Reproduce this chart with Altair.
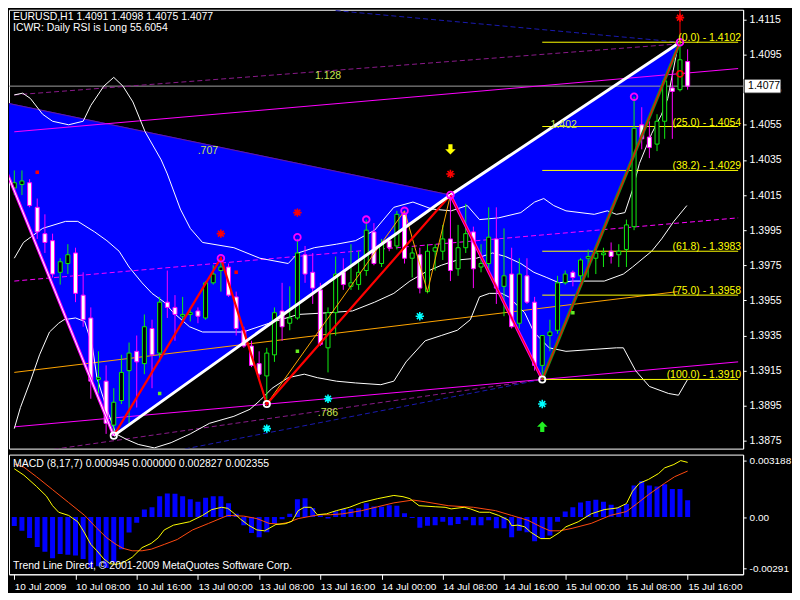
import altair as alt
import pandas as pd

# ---------------- data ----------------
opens = [1.4019, 1.4021, 1.4022, 1.4008, 1.3993, 1.3989, 1.3971, 1.3976, 1.3982, 1.3958,
         1.3945, 1.3910, 1.3909, 1.3884, 1.3898, 1.3915, 1.3926, 1.3919, 1.3939, 1.3925,
         1.3954, 1.3951, 1.3946, 1.3947, 1.3949, 1.3945, 1.3965, 1.3972, 1.3974, 1.3957,
         1.3938, 1.3929, 1.3919, 1.3912, 1.3924, 1.3949, 1.3942, 1.3945, 1.3981, 1.3971,
         1.3961, 1.3928, 1.3948, 1.3971, 1.3963, 1.3964, 1.3972, 1.3994, 1.3976, 1.3989,
         1.3986, 1.4004, 1.3979, 1.3981, 1.3960, 1.3983, 1.3983, 1.3990, 1.3973, 1.3985,
         1.3994, 1.3974, 1.3976, 1.3990, 1.3963, 1.3970, 1.3942, 1.3969, 1.3954, 1.3918,
         1.3935, 1.3938, 1.3965, 1.3971, 1.3969, 1.3979, 1.3979, 1.3981, 1.3983, 1.3981,
         1.3984, 1.3997, 1.4055, 1.4048, 1.4044, 1.4057, 1.4076, 1.4075, 1.4091]
highs = [1.4029, 1.4029, 1.4024, 1.4013, 1.4004, 1.3993, 1.3979, 1.3987, 1.3985, 1.3971,
         1.3951, 1.3926, 1.3918, 1.3905, 1.3924, 1.3931, 1.3935, 1.3947, 1.3944, 1.3957,
         1.3972, 1.3958, 1.3957, 1.3951, 1.3951, 1.3966, 1.3975, 1.3979, 1.3976, 1.3960,
         1.3940, 1.3932, 1.3926, 1.3928, 1.3951, 1.3965, 1.3963, 1.3990, 1.3986, 1.3982,
         1.3965, 1.3951, 1.3980, 1.3979, 1.3987, 1.3983, 1.4001, 1.3999, 1.3990, 1.3991,
         1.4006, 1.4006, 1.3985, 1.3985, 1.3987, 1.3987, 1.3998, 1.4015, 1.3998, 1.4010,
         1.3997, 1.3987, 1.4008, 1.4008, 1.3996, 1.3985, 1.3979, 1.3979, 1.3957, 1.3935,
         1.3944, 1.3969, 1.3972, 1.3972, 1.3979, 1.3984, 1.3985, 1.3985, 1.3988, 1.3987,
         1.4001, 1.4071, 1.4065, 1.4057, 1.4061, 1.4082, 1.4086, 1.4102, 1.4098]
lows = [1.4015, 1.4015, 1.4008, 1.3990, 1.3982, 1.3968, 1.3964, 1.3970, 1.3954, 1.3940,
        1.3899, 1.3902, 1.3879, 1.3878, 1.3896, 1.3885, 1.3894, 1.3913, 1.3905, 1.3920,
        1.3945, 1.3932, 1.3942, 1.3943, 1.3942, 1.3944, 1.3964, 1.3960, 1.3957, 1.3935,
        1.3928, 1.3917, 1.3911, 1.3896, 1.3920, 1.3932, 1.3938, 1.3944, 1.3965, 1.3953,
        1.3929, 1.3914, 1.3935, 1.3961, 1.3961, 1.3961, 1.3969, 1.3975, 1.3974, 1.3983,
        1.3984, 1.3976, 1.3968, 1.3959, 1.3959, 1.3972, 1.3978, 1.3966, 1.3969, 1.3982,
        1.3962, 1.3971, 1.3972, 1.3953, 1.3946, 1.3939, 1.3939, 1.3953, 1.3915, 1.3910,
        1.3926, 1.3936, 1.3964, 1.3963, 1.3966, 1.3968, 1.3970, 1.3974, 1.3976, 1.3974,
        1.3974, 1.3995, 1.4041, 1.4036, 1.4040, 1.4047, 1.4047, 1.4074, 1.4075]
closes = [1.4022, 1.4023, 1.4009, 1.3994, 1.3988, 1.3970, 1.3977, 1.3981, 1.3959, 1.3944,
          1.3909, 1.3911, 1.3885, 1.3897, 1.3914, 1.3925, 1.3920, 1.3940, 1.3924, 1.3954,
          1.3951, 1.3947, 1.3947, 1.3948, 1.3946, 1.3965, 1.3970, 1.3974, 1.3958, 1.3939,
          1.3929, 1.3918, 1.3913, 1.3925, 1.3948, 1.3940, 1.3945, 1.3982, 1.3970, 1.3962,
          1.3930, 1.3948, 1.3970, 1.3964, 1.3965, 1.3971, 1.3995, 1.3976, 1.3987, 1.3985,
          1.4004, 1.3979, 1.3982, 1.3962, 1.3983, 1.3985, 1.3990, 1.3972, 1.3985, 1.3993,
          1.3973, 1.3976, 1.3991, 1.3962, 1.3969, 1.3940, 1.3970, 1.3954, 1.3918, 1.3935,
          1.3937, 1.3965, 1.3970, 1.3968, 1.3978, 1.3980, 1.3982, 1.3982, 1.3980, 1.3983,
          1.3998, 1.4053, 1.4047, 1.4042, 1.4057, 1.4080, 1.4074, 1.4092, 1.4077]

time_label_bars = [0, 8, 16, 24, 32, 40, 48, 56, 64, 72, 80, 88]
time_labels = ["10 Jul 2009", "10 Jul 08:00", "10 Jul 16:00", "13 Jul 00:00",
               "13 Jul 08:00", "13 Jul 16:00", "14 Jul 00:00", "14 Jul 08:00",
               "14 Jul 16:00", "15 Jul 00:00", "15 Jul 08:00", "15 Jul 16:00"]
price_ticks = [1.3875, 1.3895, 1.3915, 1.3935, 1.3955, 1.3975, 1.3995,
               1.4015, 1.4035, 1.4055, 1.4075, 1.4095, 1.4115]

# harmonic pattern points X, A, B, C, D
pat_i = [-5.0, 13, 57, 69, 87]
pat_p = [1.4071, 1.3878, 1.4015, 1.3910, 1.4102]

# red zigzag and orange zigzag swings
red_zz_i = [13, 27, 33, 57]
red_zz_p = [1.3878, 1.3979, 1.3896, 1.4015]
orange_zz_i = [33, 51, 54, 57]
orange_zz_p = [1.3896, 1.4006, 1.3960, 1.4015]

# trend lines (start, end)
mag_upper_i, mag_upper_p = [0, 94.6], [1.4051, 1.4087]
mag_lower_i, mag_lower_p = [0, 94.6], [1.3883, 1.3920]
mag_dash_i, mag_dash_p = [0, 94.6], [1.3966, 1.4002]
pur_upper_i, pur_upper_p = [0, 86.7], [1.4072, 1.4101]
pur_lower_i, pur_lower_p = [0, 69], [1.3867, 1.3910]
blue_lower_i, blue_lower_p = [10, 69], [1.3860, 1.3910]
blue_upper_i, blue_upper_p = [42, 87], [1.4120, 1.4102]
orange_line_i, orange_line_p = [0, 86.7], [1.3914, 1.3960]
red_vert_i, red_vert_p = [87, 87], [1.4102, 1.4125]

# envelope / band lines
ub_i = [0, 1.1, 2.1, 3.7, 5.0, 7.1, 9.0, 10.0, 11.7, 13.0, 14.2, 15.5, 17.1, 19.2, 20.0,
        21.7, 23.0, 24.6, 28.7, 32.1, 35.8, 37.1, 39.2, 42.1, 44.6, 47.1, 49.6, 52.1, 54.6,
        57.1, 59.2, 60.8, 63.3, 66.2, 68.0, 69.2, 70.5, 72.1, 75.8, 77.5, 78.7, 79.8, 80.8,
        81.7, 83.3, 84.6, 85.4, 86.7]
ub_p = [1.4072, 1.4073, 1.4070, 1.4061, 1.4057, 1.4055, 1.4057, 1.4066, 1.4077, 1.4082,
        1.4077, 1.4068, 1.4051, 1.4035, 1.4027, 1.4007, 1.3996, 1.3988, 1.3985, 1.3979,
        1.3976, 1.3982, 1.3985, 1.3987, 1.3989, 1.3995, 1.4008, 1.4011, 1.4007, 1.4006,
        1.4009, 1.4001, 1.4002, 1.4005, 1.4011, 1.4013, 1.4009, 1.4006, 1.4004, 1.4006,
        1.4004, 1.4005, 1.4018, 1.4033, 1.4050, 1.4061, 1.4070, 1.4099]
mb_i = [0, 1.2, 3.7, 6.7, 8.3, 10.5, 12.1, 13.7, 15.0, 16.7, 18.0, 19.6, 20.8, 22.9, 24.6,
        29.9, 33.3, 37.1, 41.2, 44.2, 47.1, 49.6, 51.7, 53.7, 55.8, 57.9, 60.4, 62.5, 64.2,
        66.2, 67.9, 69.6, 71.2, 72.9, 77.1, 79.6, 80.8, 83.3, 84.6, 86.2, 87.9]
mb_p = [1.3979, 1.3988, 1.3996, 1.4000, 1.4000, 1.3994, 1.3989, 1.3983, 1.3974, 1.3965,
        1.3959, 1.3954, 1.3948, 1.3940, 1.3937, 1.3937, 1.3942, 1.3947, 1.3948, 1.3949,
        1.3954, 1.3959, 1.3966, 1.3971, 1.3975, 1.3978, 1.3979, 1.3982, 1.3980, 1.3976,
        1.3971, 1.3968, 1.3965, 1.3966, 1.3966, 1.3970, 1.3974, 1.3983, 1.3990, 1.4000, 1.4009]
lb_i = [0, 0.8, 2.1, 3.3, 4.6, 5.8, 6.5, 8.0, 9.2, 10.2, 10.8, 12.1, 13.3, 14.6, 16.2,
        18.3, 20.5, 23.0, 25.5, 28.7, 30.8, 32.1, 33.7, 35.8, 37.9, 39.6, 42.1, 44.6, 47.9,
        49.6, 51.2, 53.7, 55.8, 57.9, 59.6, 60.8, 62.1, 63.7, 64.6, 66.7, 67.9, 69.9, 72.1,
        78.7, 79.6, 81.2, 83.0, 85.5, 86.8, 88.0]
lb_p = [1.3882, 1.3894, 1.3909, 1.3924, 1.3937, 1.3942, 1.3944, 1.3945, 1.3943, 1.3929,
        1.3911, 1.3893, 1.3879, 1.3876, 1.3873, 1.3871, 1.3874, 1.3879, 1.3885, 1.3889,
        1.3893, 1.3898, 1.3905, 1.3911, 1.3913, 1.3911, 1.3909, 1.3908, 1.3907, 1.3909,
        1.3920, 1.3932, 1.3935, 1.3938, 1.3944, 1.3957, 1.3959, 1.3959, 1.3957, 1.3948,
        1.3937, 1.3928, 1.3926, 1.3928, 1.3928, 1.3915, 1.3906, 1.3902, 1.3901, 1.3910]

# fibonacci levels
fib_pct = [0.0, 25.0, 38.2, 61.8, 75.0, 100.0]
fib_prices = [1.4102, 1.4054, 1.4029, 1.3983, 1.3958, 1.3910]

# markers
mag_circ_i = [27, 37, 46, 51, 57, 81, 87]
mag_circ_p = [1.3979, 1.3991, 1.4001, 1.4006, 1.4015, 1.4071, 1.4102]
white_circ_i = [13, 33, 69]
white_circ_p = [1.3878, 1.3896, 1.3910]
red_circ_i, red_circ_p = [87], [1.4084]
red_star_i = [27, 37, 57, 87]
red_star_p = [1.3993, 1.4005, 1.4027, 1.4116]
cyan_star_i = [33, 41, 53, 69]
cyan_star_p = [1.3882, 1.3899, 1.3946, 1.3896]
down_arrow_i, down_arrow_p = [57], [1.4041]
up_arrow_i, up_arrow_p = [69], [1.3883]
lime_sq_i = [19, 37, 73]
lime_sq_p = [1.3902, 1.3926, 1.3948]
red_sq_i = [3, 29]
red_sq_p = [1.4028, 1.3971]

ratio_labels = [".707", "1.128", ".786", "1.402"]
ratio_i = [25.3, 41, 41, 71.8]
ratio_p = [1.4040, 1.4083, 1.3891, 1.4055]

header_1 = "EURUSD,H1  1.4091 1.4098 1.4075 1.4077"
header_2 = "ICWR: Daily RSI is Long 55.6054"
macd_header = "MACD  (8,17,7) 0.000945 0.000000 0.002827 0.002355"
copyright_txt = "Trend Line Direct, \u00a9 2001-2009 MetaQuotes Software Corp."

# MACD panel
macd_hist = [-0.00051, -0.00078, -0.00118, -0.00169, -0.00197, -0.00233, -0.00209, -0.00213, -0.00218, -0.00237,
             -0.00286, -0.00278, -0.00288, -0.00255, -0.00182, -0.00087, -0.00033, 0.00042, 0.00055, 0.00118,
             0.00133, 0.00131, 0.00118, 0.00100, 0.00086, 0.00109, 0.00118, 0.00118, 0.00078, 0.00018,
             -0.00046, -0.00091, -0.00115, -0.00086, -0.00036, -0.00013, 0.00018, 0.00100, 0.00106, 0.00051,
             0.00009, -0.00009, 0.00033, 0.00046, 0.00046, 0.00049, 0.00078, 0.00060, 0.00058, 0.00067,
             0.00064, 0.00022, -0.00005, -0.00060, -0.00049, -0.00046, -0.00027, -0.00046, -0.00040, -0.00018,
             -0.00046, -0.00046, -0.00018, -0.00064, -0.00064, -0.00115, -0.00078, -0.00086, -0.00137, -0.00118,
             -0.00104, -0.00027, 0.00031, 0.00055, 0.00082, 0.00091, 0.00097, 0.00086, 0.00069, 0.00055,
             0.00073, 0.00178, 0.00204, 0.00178, 0.00173, 0.00186, 0.00158, 0.00158, 0.00095]
ym_i = [0, 1.25, 2.9, 4.2, 5.0, 5.8, 7.1, 8.3, 9.2, 10.0, 10.8, 11.7, 12.5, 13.3, 14.2,
        15.4, 16.7, 17.9, 18.8, 19.6, 20.8, 22.9, 24.6, 25.8, 27.1, 27.9, 28.8, 29.6, 30.6,
        31.7, 32.7, 33.3, 34.2, 35.4, 36.3, 37.1, 37.9, 38.8, 39.6, 40.8, 42.1, 43.8, 45.4,
        47.5, 49.6, 50.8, 51.7, 52.9, 55.0, 56.3, 57.1, 58.8, 59.6, 60.8, 62.1, 63.3, 64.6,
        65.0, 65.8, 66.7, 67.5, 68.8, 70.0, 71.3, 72.1, 73.7, 75.4, 77.1, 78.8, 80.0, 80.8,
        81.7, 82.9, 84.2, 85.0, 86.2, 87.1, 88.0]
ym_v = [0.00273, 0.00237, 0.00173, 0.00118, 0.00064, 0.00027, 0.00009, -0.00027, -0.00091, -0.00155,
        -0.00191, -0.00237, -0.00264, -0.00268, -0.00258, -0.00228, -0.00173, -0.00149, -0.00118, -0.00073,
        -0.00046, -0.00027, 0.00009, 0.00042, 0.00055, 0.00049, 0.00018, -0.00013, -0.00046, -0.00073,
        -0.00078, -0.00064, -0.00042, -0.00038, -0.00024, 0.00036, 0.00055, 0.00055, 0.00013, 0.00018,
        0.00036, 0.00055, 0.00082, 0.00104, 0.00122, 0.00115, 0.00104, 0.00064, 0.00058, 0.00055,
        0.00046, 0.00055, 0.00046, 0.00027, 0.00027, 0.00009, -0.00018, -0.00049, -0.00046, -0.00055,
        -0.00086, -0.00122, -0.00122, -0.00086, -0.00055, -0.00027, 0.00018, 0.00042, 0.00051, 0.00076,
        0.00146, 0.00191, 0.00213, 0.00246, 0.00278, 0.00297, 0.00319, 0.00309]
rm_i = [0, 1.25, 2.9, 5.0, 7.1, 9.2, 10.8, 12.1, 13.3, 14.2, 15.4, 16.7, 17.9, 19.6, 21.3,
        23.3, 25.4, 27.9, 30.0, 31.7, 33.3, 34.6, 35.8, 37.1, 38.8, 40.0, 41.3, 42.9, 45.4,
        47.5, 49.6, 52.1, 53.7, 56.7, 60.0, 62.9, 65.0, 67.1, 68.8, 70.0, 71.3, 72.9, 75.4,
        77.9, 80.0, 81.3, 82.9, 85.0, 86.3, 88.0]
rm_v = [0.00300, 0.00282, 0.00228, 0.00155, 0.00082, 0.00009, -0.00064, -0.00118, -0.00155, -0.00177,
        -0.00191, -0.00191, -0.00182, -0.00155, -0.00127, -0.00073, -0.00036, 0.00009, 0.00005, -0.00009,
        -0.00036, -0.00040, -0.00031, -0.00009, 0.00005, 0.00013, 0.00013, 0.00018, 0.00036, 0.00058,
        0.00080, 0.00096, 0.00086, 0.00064, 0.00055, 0.00036, 0.00009, -0.00018, -0.00055, -0.00078,
        -0.00078, -0.00064, -0.00036, 0.00009, 0.00031, 0.00073, 0.00127, 0.00191, 0.00228, 0.00260]
macd_ticks = [0.003188, 0.0, -0.00291]
macd_tick_labels = ["0.003188", "0.00", "-0.00291"]

# ---------------- layout & style ----------------
W, H_MAIN, H_MACD = 736, 440, 120
X_DOM = [-0.04, 94.6]
P_DOM = [1.38706, 1.41205]
M_DOM = [-0.00324, 0.00353]
FONT = "Liberation Sans"
FS = 10.5
GREEN = "#11ee11"
MAG = "#ff00ff"
BLUE = "#0000ff"
RED = "#ff0000"
YELLOW = "#ffff00"
ORANGE = "#ffa500"
PURPLE = "#8a1a8a"
DBLUE = "#1a1ab0"
CYAN = "#00ffff"
RATIO = "#c8e650"

xs = alt.Scale(domain=X_DOM, nice=False, zero=False)
ps = alt.Scale(domain=P_DOM, nice=False, zero=False)
ms = alt.Scale(domain=M_DOM, nice=False, zero=False)

time_expr = "[" + ",".join(f"'{t}'" for t in time_labels) + "][round(datum.value / 8)]"
macd_expr = (f"datum.value > 0.001 ? '{macd_tick_labels[0]}' : "
             f"(datum.value < -0.001 ? '{macd_tick_labels[2]}' : '{macd_tick_labels[1]}')")

PAX = alt.Axis(orient="right", values=price_ticks, format=".4f", title=None, tickSize=3,
               labelPadding=3, labelBaseline="middle", grid=False, labelColor="white",
               tickColor="white", domainColor="white", labelFont=FONT, labelFontSize=10.5)
TAX = alt.Axis(orient="bottom", values=time_label_bars, labelExpr=time_expr, labelAlign="left",
               labelBaseline="top", labelPadding=2, tickSize=5, title=None, labelOverlap=False,
               labelFlush=False, grid=False, labelColor="white", tickColor="white",
               domainColor="white", labelFont=FONT, labelFontSize=10)
MAX = alt.Axis(orient="right", values=macd_ticks, labelExpr=macd_expr, title=None, tickSize=3,
               labelPadding=3, labelBaseline="middle", grid=False, labelColor="white",
               tickColor="white", domainColor="white", labelFont=FONT, labelFontSize=10)


def xq(f="i", axis=None):
    return alt.X(f"{f}:Q", scale=xs, axis=axis)


def pq(f="p"):
    return alt.Y(f"{f}:Q", scale=ps, axis=PAX)


def mq(f="v"):
    return alt.Y(f"{f}:Q", scale=ms, axis=MAX)


def pts(ii, pp):
    return pd.DataFrame({"i": ii, "p": pp})


def path_layer(ii, pp, color, width=1.0, dash=None):
    df = pd.DataFrame({"i": ii, "p": pp, "k": list(range(len(ii)))})
    kw = dict(color=color, strokeWidth=width, clip=True)
    if dash:
        kw["strokeDash"] = dash
    return alt.Chart(df).mark_line(**kw).encode(x=xq(), y=pq(), order="k:Q")


def macd_line(ii, vv, color):
    df = pd.DataFrame({"i": ii, "v": vv, "k": list(range(len(ii)))})
    return alt.Chart(df).mark_line(color=color, strokeWidth=1, clip=True).encode(
        x=xq(axis=TAX), y=mq(), order="k:Q")


def tri_layer(ii, pp):
    df = pd.DataFrame({"i": ii, "p": pp, "k": list(range(len(ii)))})
    return alt.Chart(df).mark_line(fill=BLUE, stroke=BLUE, strokeWidth=1, clip=True,
                                   interpolate="linear-closed").encode(
        x=xq(), y=pq(), order="k:Q")


def marker(ii, pp, shape, color, size, filled, sw=1.5):
    return alt.Chart(pts(ii, pp)).mark_point(shape=shape, color=color, size=size, filled=filled,
                                             strokeWidth=sw, opacity=1, clip=True).encode(x=xq(), y=pq())


STAR = "M-1,0L1,0M0,-1L0,1M-0.7,-0.7L0.7,0.7M-0.7,0.7L0.7,-0.7"
DOWN_ARROW = "M0,1L-1,0L-0.4,0L-0.4,-1L0.4,-1L0.4,0L1,0Z"
UP_ARROW = "M0,-1L-1,0L-0.4,0L-0.4,1L0.4,1L0.4,0L1,0Z"

# ---------------- main panel ----------------
layers = []

cdf = pd.DataFrame({"i": list(range(len(opens))), "o": opens, "h": highs, "l": lows, "c": closes})
cdf["dir"] = ["up" if c >= o else "down" for o, c in zip(opens, closes)]

layers.append(tri_layer([pat_i[0], pat_i[1], pat_i[2]], [pat_p[0], pat_p[1], pat_p[2]]))
layers.append(tri_layer([pat_i[2], pat_i[3], pat_i[4]], [pat_p[2], pat_p[3], pat_p[4]]))
layers.append(path_layer([pat_i[0], pat_i[2]], [pat_p[0], pat_p[2]], "#6a1a9a", 1))

cur_df = pd.DataFrame({"p": [closes[-1]]})
layers.append(alt.Chart(cur_df).mark_rule(color="#a0a0a0", strokeWidth=1).encode(y=pq()))

layers.append(path_layer(pur_upper_i, pur_upper_p, PURPLE, 1, [5, 3]))
layers.append(path_layer(pur_lower_i, pur_lower_p, PURPLE, 1, [5, 3]))
layers.append(path_layer(blue_upper_i, blue_upper_p, DBLUE, 1, [5, 3]))
layers.append(path_layer(blue_lower_i, blue_lower_p, DBLUE, 1, [5, 3]))
layers.append(path_layer(mag_dash_i, mag_dash_p, MAG, 1, [5, 3]))
layers.append(path_layer(mag_upper_i, mag_upper_p, MAG, 1))
layers.append(path_layer(mag_lower_i, mag_lower_p, MAG, 1))
layers.append(path_layer(orange_line_i, orange_line_p, ORANGE, 1))

for bi, bp in [(ub_i, ub_p), (mb_i, mb_p), (lb_i, lb_p)]:
    layers.append(path_layer(bi, bp, "white", 1))

fib_df = pd.DataFrame({
    "x0": [pat_i[3]] * len(fib_prices),
    "x1": [X_DOM[1]] * len(fib_prices),
    "p": fib_prices,
    "lab": [f"({a:.1f}) - {b:.4f}" for a, b in zip(fib_pct, fib_prices)],
})
layers.append(alt.Chart(fib_df).mark_rule(color=YELLOW, strokeWidth=1, clip=True).encode(
    x=xq("x0"), x2="x1:Q", y=pq()))

layers.append(alt.Chart(cdf).mark_rule(strokeWidth=1, clip=True).encode(
    x=xq(), y=pq("l"), y2="h:Q",
    color=alt.Color("dir:N", scale=alt.Scale(domain=["up", "down"], range=[GREEN, MAG]), legend=None),
))
layers.append(alt.Chart(cdf).mark_bar(size=4, strokeWidth=1, clip=True).encode(
    x=xq(), y=pq("o"), y2="c:Q",
    fill=alt.Fill("dir:N", scale=alt.Scale(domain=["up", "down"], range=["black", "white"]), legend=None),
    stroke=alt.Stroke("dir:N", scale=alt.Scale(domain=["up", "down"], range=[GREEN, MAG]), legend=None),
))

# pattern lines
layers.append(path_layer(orange_zz_i, orange_zz_p, ORANGE, 1))
layers.append(path_layer(red_zz_i, red_zz_p, RED, 2.2))
layers.append(path_layer([pat_i[1], pat_i[2], pat_i[4]], [pat_p[1], pat_p[2], pat_p[4]], "white", 3))
layers.append(path_layer([pat_i[0], pat_i[1]], [pat_p[0], pat_p[1]], MAG, 3))
layers.append(path_layer([pat_i[0], pat_i[1]], [pat_p[0], pat_p[1]], "white", 1))
layers.append(path_layer([pat_i[2], pat_i[3]], [pat_p[2], pat_p[3]], MAG, 3))
layers.append(path_layer([pat_i[2], pat_i[3]], [pat_p[2], pat_p[3]], RED, 1.2))
layers.append(path_layer([pat_i[3], pat_i[4]], [pat_p[3], pat_p[4]], "#1a9a1a", 3.2))
layers.append(path_layer([pat_i[3], pat_i[4]], [pat_p[3], pat_p[4]], RED, 1.2))
layers.append(path_layer(red_vert_i, red_vert_p, RED, 1))

# markers
layers.append(marker(mag_circ_i, mag_circ_p, "circle", MAG, 45, False, 1.8))
layers.append(marker(white_circ_i, white_circ_p, "circle", "white", 40, False, 1.8))
layers.append(marker(red_circ_i, red_circ_p, "circle", RED, 40, False, 1.5))
layers.append(marker(red_star_i, red_star_p, STAR, RED, 70, False, 1.6))
layers.append(marker(cyan_star_i, cyan_star_p, STAR, CYAN, 70, False, 1.6))
layers.append(marker(down_arrow_i, down_arrow_p, DOWN_ARROW, YELLOW, 110, True, 0))
layers.append(marker(up_arrow_i, up_arrow_p, UP_ARROW, "#22ee22", 110, True, 0))
layers.append(marker(lime_sq_i, lime_sq_p, "square", "#66ee22", 12, True, 0))
layers.append(marker(red_sq_i, red_sq_p, "square", RED, 12, True, 0))

# texts
rdf = pd.DataFrame({"i": ratio_i, "p": ratio_p, "lab": ratio_labels})
layers.append(alt.Chart(rdf).mark_text(color=RATIO, font=FONT, fontSize=FS, baseline="middle").encode(
    x=xq(), y=pq(), text="lab:N"))
layers.append(alt.Chart(fib_df).mark_text(align="right", baseline="bottom", dy=1, color=YELLOW,
                                          font=FONT, fontSize=FS).encode(
    x=alt.value(W - 2), y=pq(), text="lab:N"))
layers.append(alt.Chart(pd.DataFrame({"t": [header_1]})).mark_text(
    align="left", baseline="top", color="white", font=FONT, fontSize=FS).encode(
    x=alt.value(4), y=alt.value(2), text="t:N"))
layers.append(alt.Chart(pd.DataFrame({"t": [header_2]})).mark_text(
    align="left", baseline="top", color="white", font=FONT, fontSize=FS).encode(
    x=alt.value(4), y=alt.value(13), text="t:N"))

# current price box on the axis
box_df = pd.DataFrame({"p": [closes[-1]], "lab": [f"{closes[-1]:.4f}"]})
layers.append(alt.Chart(box_df).transform_calculate(hi="datum.p + 0.0004", lo="datum.p - 0.0004")
              .mark_rect(fill="white", stroke="black", strokeWidth=1).encode(
    x=alt.value(W + 1), x2=alt.value(W + 38), y=pq("hi"), y2="lo:Q"))
layers.append(alt.Chart(box_df).mark_text(align="left", baseline="middle", color="black",
                                          font=FONT, fontSize=FS).encode(
    x=alt.value(W + 5), y=pq(), text="lab:N"))

main = alt.layer(*layers).properties(width=W, height=H_MAIN)

# ---------------- MACD panel ----------------
mdf = pd.DataFrame({"i": list(range(len(macd_hist))), "v": macd_hist, "z": [0.0] * len(macd_hist)})
macd_layers = [
    alt.Chart(mdf).mark_bar(size=5, color=BLUE, clip=True).encode(
        x=xq(axis=TAX), y=mq(), y2="z:Q"),
    macd_line(rm_i, rm_v, "#ff4a10"),
    macd_line(ym_i, ym_v, YELLOW),
    alt.Chart(pd.DataFrame({"t": [macd_header]})).mark_text(
        align="left", baseline="top", color="white", font=FONT, fontSize=FS).encode(
        x=alt.value(4), y=alt.value(4), text="t:N"),
    alt.Chart(pd.DataFrame({"t": [copyright_txt]})).mark_text(
        align="left", baseline="bottom", color="white", font=FONT, fontSize=FS).encode(
        x=alt.value(4), y=alt.value(H_MACD - 3), text="t:N"),
]
macd = alt.layer(*macd_layers).properties(width=W, height=H_MACD)

chart = (
    alt.vconcat(main, macd, spacing=4)
    .configure(background="black", padding={"left": 0, "top": 0, "right": 0, "bottom": 0}, font=FONT)
    .configure_view(stroke="white", strokeWidth=1)
)

chart.save("out.html", embed_options={"renderer": "svg", "actions": False})
